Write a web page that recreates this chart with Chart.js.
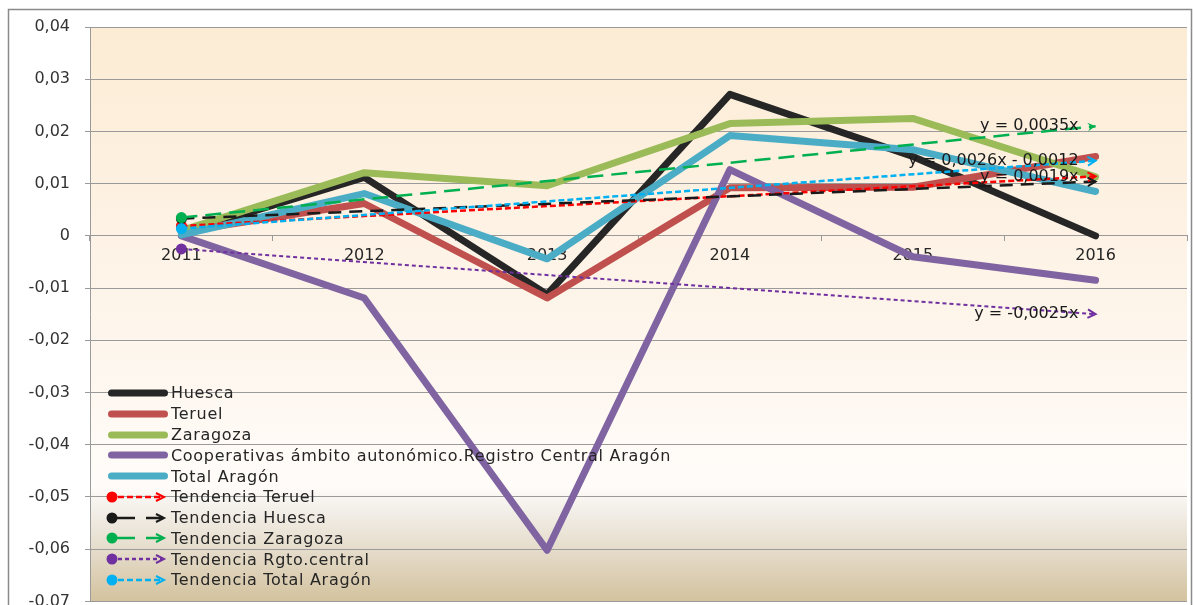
<!DOCTYPE html>
<html>
<head>
<meta charset="utf-8">
<script src="https://cdn.jsdelivr.net/npm/chart.js@4.4.0/dist/chart.umd.min.js"></script>
<style>
  html, body { margin: 0; padding: 0; background: #ffffff; }
  #wrap { position: relative; width: 1193px; height: 605px; overflow: hidden; }
  #chart { display: block; }
  #legend { position: absolute; left: 100px; top: 382.6px; font-family: "DejaVu Sans", sans-serif; font-size: 16px; letter-spacing: 0.7px; color: #262626; }
  .row { height: 20.78px; display: flex; align-items: center; white-space: nowrap; }
  .row svg { flex: none; display: block; }
</style>
</head>
<body>
<div id="wrap">
  <canvas id="chart" width="1193" height="626"></canvas>
  <div id="legend"></div>
</div>
<script>
// ---------- data ----------
const categories = ['2011', '2012', '2013', '2014', '2015', '2016'];

const huesca       = [0.0005, 0.0112, -0.0112, 0.0271, 0.0152, 0.0000];
const teruel       = [0.0008, 0.0062, -0.0119, 0.0092, 0.0093, 0.0152];
const zaragoza     = [0.0010, 0.0121,  0.0096, 0.0215, 0.0225, 0.0113];
const cooperativas = [0.0000, -0.0119, -0.0602, 0.0127, -0.0040, -0.0085];
const totalAragon  = [0.0002, 0.0081, -0.0044, 0.0192, 0.0165, 0.0085];

// trend lines: value read at the start (2011) and at the arrow end (2016)
const tendTeruel   = [0.0019, null, null, null, null, 0.0114];
const tendHuesca   = [0.0033, null, null, null, null, 0.0104];
const tendZaragoza = [0.0035, null, null, null, null, 0.0210];
const tendRgto     = [-0.0025, null, null, null, null, -0.0150];
const tendTotal    = [0.0014, null, null, null, null, 0.0144];

const seriesLabels = ['Huesca', 'Teruel', 'Zaragoza',
  'Cooperativas ámbito autonómico.Registro Central Aragón', 'Total Aragón'];
const trendLabels = ['Tendencia Teruel', 'Tendencia Huesca', 'Tendencia Zaragoza',
  'Tendencia Rgto.central', 'Tendencia Total Aragón'];

// equation labels shown at the end of the trend lines
const eqZaragoza = 'y = 0,0035x';
const eqTotal    = 'y = 0,0026x - 0,0012';
const eqTeruel   = 'y = 0,0019x';
const eqRgto     = 'y = -0,0025x';

const yMin = -0.07, yMax = 0.04, yStep = 0.01;

// ---------- styles ----------
const seriesColors = ['#262626', '#C0504D', '#9BBB59', '#8064A2', '#4BACC6'];
const trendColors  = ['#FF0000', '#1A1A1A', '#00B050', '#7030A0', '#00B0F0'];
const trendDashes  = [[6, 3], [13, 8], [16, 8], [4, 3], [6, 3]];
const trendArrowFilled = [false, false, true, false, false];

const seriesData = [huesca, teruel, zaragoza, cooperativas, totalAragon];
const trendData  = [tendTeruel, tendHuesca, tendZaragoza, tendRgto, tendTotal];
const trendEq    = [eqTeruel, null, eqZaragoza, eqRgto, eqTotal];

const datasets = [];
seriesData.forEach((d, i) => {
  datasets.push({
    label: seriesLabels[i],
    data: d,
    borderColor: seriesColors[i],
    backgroundColor: seriesColors[i],
    borderWidth: 7,
    pointRadius: 0,
    pointHoverRadius: 0,
    tension: 0,
    borderJoinStyle: 'round',
    borderCapStyle: 'round',
    order: 10 - i
  });
});
trendData.forEach((d, i) => {
  datasets.push({
    label: trendLabels[i],
    data: d,
    spanGaps: true,
    borderColor: trendColors[i],
    backgroundColor: trendColors[i],
    borderWidth: i === 3 ? 2 : 2.5,
    borderDash: trendDashes[i],
    pointRadius: [5.5, 0, 0, 0, 0, 0],
    pointBorderWidth: 0,
    pointHoverRadius: 0,
    tension: 0,
    isTrend: true,
    trendIndex: i,
    order: 5 - i
  });
});

// ---------- plugins ----------
const bgPlugin = {
  id: 'bg',
  beforeDraw(chart) {
    const { ctx, chartArea: a } = chart;
    ctx.save();
    ctx.fillStyle = '#ffffff';
    ctx.fillRect(0, 0, chart.width, chart.height);
    const g = ctx.createLinearGradient(0, a.top, 0, a.bottom);
    g.addColorStop(0.00, '#FCECD4');
    g.addColorStop(0.30, '#FDF1E2');
    g.addColorStop(0.60, '#FEF7EF');
    g.addColorStop(0.80, '#FFFCF9');
    g.addColorStop(0.84, '#F3EFE9');
    g.addColorStop(0.92, '#E3D9C6');
    g.addColorStop(1.00, '#D3C29E');
    ctx.fillStyle = g;
    ctx.fillRect(a.left, a.top, a.right - a.left, a.bottom - a.top);
    ctx.restore();
  },
  afterDraw(chart) {
    const { ctx } = chart;
    ctx.save();
    ctx.strokeStyle = '#8a8a8a';
    ctx.lineWidth = 1.5;
    ctx.strokeRect(8.5, 9.5, 1183, 640);
    ctx.restore();
  }
};

const trendDeco = {
  id: 'trendDeco',
  afterDatasetsDraw(chart) {
    const { ctx } = chart;
    ctx.save();
    chart.data.datasets.forEach((ds, di) => {
      if (!ds.isTrend) return;
      const meta = chart.getDatasetMeta(di);
      const p0 = meta.data[0], p1 = meta.data[meta.data.length - 1];
      const ang = Math.atan2(p1.y - p0.y, p1.x - p0.x);
      const len = 9, spread = 0.5;
      const ax = p1.x - len * Math.cos(ang - spread), ay = p1.y - len * Math.sin(ang - spread);
      const bx = p1.x - len * Math.cos(ang + spread), by = p1.y - len * Math.sin(ang + spread);
      ctx.strokeStyle = ds.borderColor;
      ctx.fillStyle = ds.borderColor;
      ctx.setLineDash([]);
      ctx.lineWidth = 2;
      ctx.beginPath();
      if (trendArrowFilled[ds.trendIndex]) {
        ctx.moveTo(p1.x, p1.y);
        ctx.lineTo(ax, ay);
        ctx.lineTo(p1.x - 5 * Math.cos(ang), p1.y - 5 * Math.sin(ang));
        ctx.lineTo(bx, by);
        ctx.closePath();
        ctx.fill();
      } else {
        ctx.moveTo(ax, ay);
        ctx.lineTo(p1.x, p1.y);
        ctx.lineTo(bx, by);
        ctx.stroke();
      }
      const eq = trendEq[ds.trendIndex];
      if (eq) {
        ctx.font = '16px "DejaVu Sans"';
        ctx.fillStyle = '#1a1a1a';
        ctx.textAlign = 'right';
        ctx.textBaseline = 'middle';
        ctx.fillText(eq, p1.x - 17, p1.y);
      }
    });
    ctx.restore();
  }
};

// ---------- chart ----------
const fmt = v => Math.abs(v) < 1e-9 ? '0' : v.toFixed(2).replace('.', ',');

new Chart(document.getElementById('chart'), {
  type: 'line',
  data: { labels: categories, datasets },
  options: {
    responsive: false,
    animation: false,
    events: [],
    layout: { padding: { left: 10, top: 27, right: 6, bottom: 11 } },
    plugins: { legend: { display: false }, tooltip: { enabled: false } },
    scales: {
      y: {
        min: yMin, max: yMax,
        ticks: {
          stepSize: yStep,
          callback: fmt,
          padding: 15,
          color: '#333333',
          font: { family: 'DejaVu Sans', size: 16 }
        },
        grid: { color: '#9a9a9a', lineWidth: 1, tickLength: 5 },
        border: { color: '#9a9a9a' },
        afterFit(scale) { scale.width = 80; }
      },
      x: {
        position: { y: 0 },
        offset: true,
        ticks: {
          padding: 5,
          color: '#262626',
          font: { family: 'DejaVu Sans', size: 16 }
        },
        grid: { offset: true, drawOnChartArea: false, tickLength: 5, color: '#9a9a9a' },
        border: { color: '#9a9a9a' }
      }
    }
  },
  plugins: [bgPlugin, trendDeco]
});

// ---------- legend (HTML) ----------
const legend = document.getElementById('legend');
function seriesIcon(color) {
  return `<svg width="71" height="20"><line x1="11.5" y1="10" x2="64.5" y2="10" stroke="${color}" stroke-width="7" stroke-linecap="round"/></svg>`;
}
function trendIcon(color, i) {
  let line;
  if (i === 1 || i === 2) {
    line = `<line x1="17" y1="10" x2="35" y2="10" stroke="${color}" stroke-width="2.5"/>` +
           `<line x1="46" y1="10" x2="63" y2="10" stroke="${color}" stroke-width="2.5"/>`;
  } else {
    line = `<line x1="18" y1="10" x2="62" y2="10" stroke="${color}" stroke-width="2.5" stroke-dasharray="${i===3?'4 3':'6 3'}"/>`;
  }
  const arrow = `<polyline points="56,6 64,10 56,14" fill="none" stroke="${color}" stroke-width="2"/>`;
  return `<svg width="71" height="20"><circle cx="12" cy="10" r="5.5" fill="${color}"/>${line}${arrow}</svg>`;
}
seriesLabels.forEach((l, i) => {
  const r = document.createElement('div');
  r.className = 'row';
  r.innerHTML = seriesIcon(seriesColors[i]) + '<span></span>';
  r.querySelector('span').textContent = l;
  legend.appendChild(r);
});
trendLabels.forEach((l, i) => {
  const r = document.createElement('div');
  r.className = 'row';
  r.innerHTML = trendIcon(trendColors[i], i) + '<span></span>';
  r.querySelector('span').textContent = l;
  legend.appendChild(r);
});
</script>
</body>
</html>
